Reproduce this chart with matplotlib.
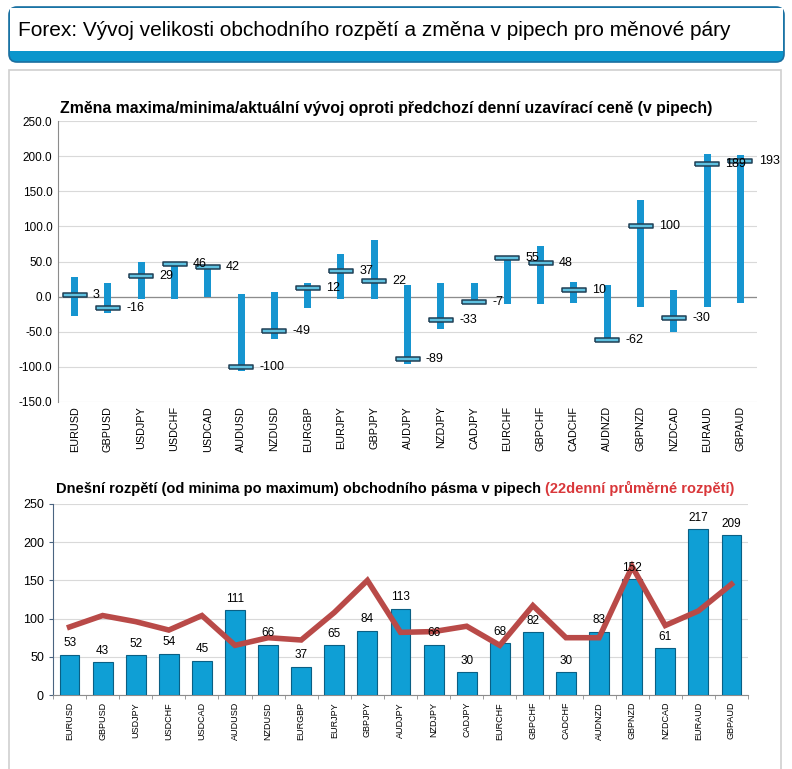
import numpy as np
import matplotlib.pyplot as plt
from matplotlib.patches import FancyBboxPatch, Rectangle

# Data
pairs = ["EURUSD", "GBPUSD", "USDJPY", "USDCHF", "USDCAD", "AUDUSD", "NZDUSD",
         "EURGBP", "EURJPY", "GBPJPY", "AUDJPY", "NZDJPY", "CADJPY", "EURCHF",
         "GBPCHF", "CADCHF", "AUDNZD", "GBPNZD", "NZDCAD", "EURAUD", "GBPAUD"]
high = [28, 19, 49, 47, 44, 4, 6, 20, 60, 81, 17, 20, 20, 56, 72, 21, 17, 138, 10, 203, 201]
low = [-27, -24, -3, -4, 0, -106, -60, -16, -4, -4, -96, -46, -7, -11, -10, -9, -63, -15, -51, -15, -9]
close = [3, -16, 29, 46, 42, -100, -49, 12, 37, 22, -89, -33, -7, 55, 48, 10, -62, 100, -30, 189, 193]
today_range = [53, 43, 52, 54, 45, 111, 66, 37, 65, 84, 113, 66, 30, 68, 82, 30, 83, 152, 61, 217, 209]
avg_range = [89, 104, 96, 85, 104, 65, 75, 72, 108, 150, 82, 83, 90, 65, 117, 75, 75, 168, 91, 110, 145]

W, H = 792, 769
plt.rcParams['font.family'] = ['Liberation Sans', 'DejaVu Sans']

fig = plt.figure(figsize=(W / 100, H / 100), dpi=100)

def box(l, t, r, b):
    return [l / W, 1 - b / H, (r - l) / W, (b - t) / H]

# header and panel frames
bg = fig.add_axes([0, 0, 1, 1])
bg.set_xlim(0, W)
bg.set_ylim(H, 0)
bg.axis("off")
bg.add_patch(FancyBboxPatch((9, 7), 775, 55, boxstyle="round,pad=0,rounding_size=8",
                            fc="#0b96cc", ec="#1b6fa0", lw=1.2))
bg.add_patch(Rectangle((10, 8), 773, 43, fc="white", ec="none"))
bg.text(18, 30, "Forex: Vývoj velikosti obchodního rozpětí a změna v pipech pro měnové páry",
        fontsize=15, va="center", ha="left")
bg.add_patch(Rectangle((9, 70), 772, 705, fc="white", ec="#cfcfcf", lw=1.2))

x = np.arange(len(pairs))

# top chart
ax1 = fig.add_axes(box(58, 121, 757, 402))
hi = np.array(high)
lo = np.array(low)
ax1.bar(x, hi - lo, bottom=lo, width=0.21, color="#1695d0", zorder=3)
rect = [(-1, -0.15), (1, -0.15), (1, 0.15), (-1, 0.15), (-1, -0.15)]
ax1.plot(x, close, ls="none", marker=rect, ms=17.5, mfc="#5fc1e0", mec="#1f3f55",
         mew=1.1, zorder=4)
for xi, c in zip(x, close):
    ax1.text(xi + 0.55, c, f"{c}", fontsize=9, va="center", ha="left", zorder=5)
ax1.set_xlim(-0.5, len(pairs) - 0.5)
ax1.set_ylim(-150, 250)
ax1.set_yticks(np.arange(-150, 251, 50))
ax1.set_yticklabels([f"{v:.1f}" for v in np.arange(-150, 251, 50)], fontsize=8.5)
ax1.set_xticks(x)
ax1.set_xticklabels(pairs, rotation=90, fontsize=7.8)
ax1.tick_params(length=0, pad=4)
ax1.tick_params(axis="x", pad=3)
ax1.grid(axis="y", color="#d9d9d9", lw=0.8, zorder=0)
ax1.axhline(0, color="#8c8c8c", lw=0.9, zorder=2)
for s in ["top", "right", "bottom"]:
    ax1.spines[s].set_visible(False)
ax1.spines["left"].set_color("#8c8c8c")
ax1.set_title("Změna maxima/minima/aktuální vývoj oproti předchozí denní uzavírací ceně (v pipech)",
              fontsize=11.4, fontweight="bold", loc="left", pad=6, x=0.003)

# bottom chart
ax2 = fig.add_axes(box(53, 504, 748, 695))
ax2.bar(x, today_range, width=0.6, color="#0f9fd5", edgecolor="#0a5f84", lw=0.8, zorder=3)
ax2.plot(x, avg_range, color="#b94a48", lw=4, zorder=4, solid_joinstyle="miter")
for xi, v in zip(x, today_range):
    ax2.text(xi, v + 7, f"{v}", fontsize=8.5, ha="center", va="bottom", zorder=5)
ax2.set_xlim(-0.5, len(pairs) - 0.5)
ax2.set_ylim(0, 250)
ax2.set_yticks(np.arange(0, 251, 50))
ax2.tick_params(axis="y", labelsize=9, length=3, color="#4a6480")
ax2.set_xticks(x)
ax2.set_xticklabels(pairs, rotation=90, fontsize=6.5)
ax2.set_xticks(np.arange(-0.5, len(pairs)), minor=True)
ax2.tick_params(axis="x", which="major", length=0, pad=5)
ax2.tick_params(axis="x", which="minor", length=3, color="#8c8c8c")
ax2.grid(axis="y", color="#d9d9d9", lw=0.8, zorder=0)
for s in ["top", "right"]:
    ax2.spines[s].set_visible(False)
ax2.spines["left"].set_color("#4a6480")
ax2.spines["bottom"].set_color("#8c8c8c")
ax2.text(0.004, 1.04, "Dnešní rozpětí (od minima po maximum) obchodního pásma v pipech ",
         transform=ax2.transAxes, fontsize=10.5, fontweight="bold", ha="left", va="bottom")
t = ax2.texts[-1]
fig.canvas.draw()
bb = t.get_window_extent()
ax2.annotate("(22denní průměrné rozpětí)", xy=(bb.x1, bb.y0), xycoords="figure pixels",
             fontsize=10.5, fontweight="bold", color="#d9373a", ha="left", va="bottom")

fig.savefig("out.png", dpi=100)
